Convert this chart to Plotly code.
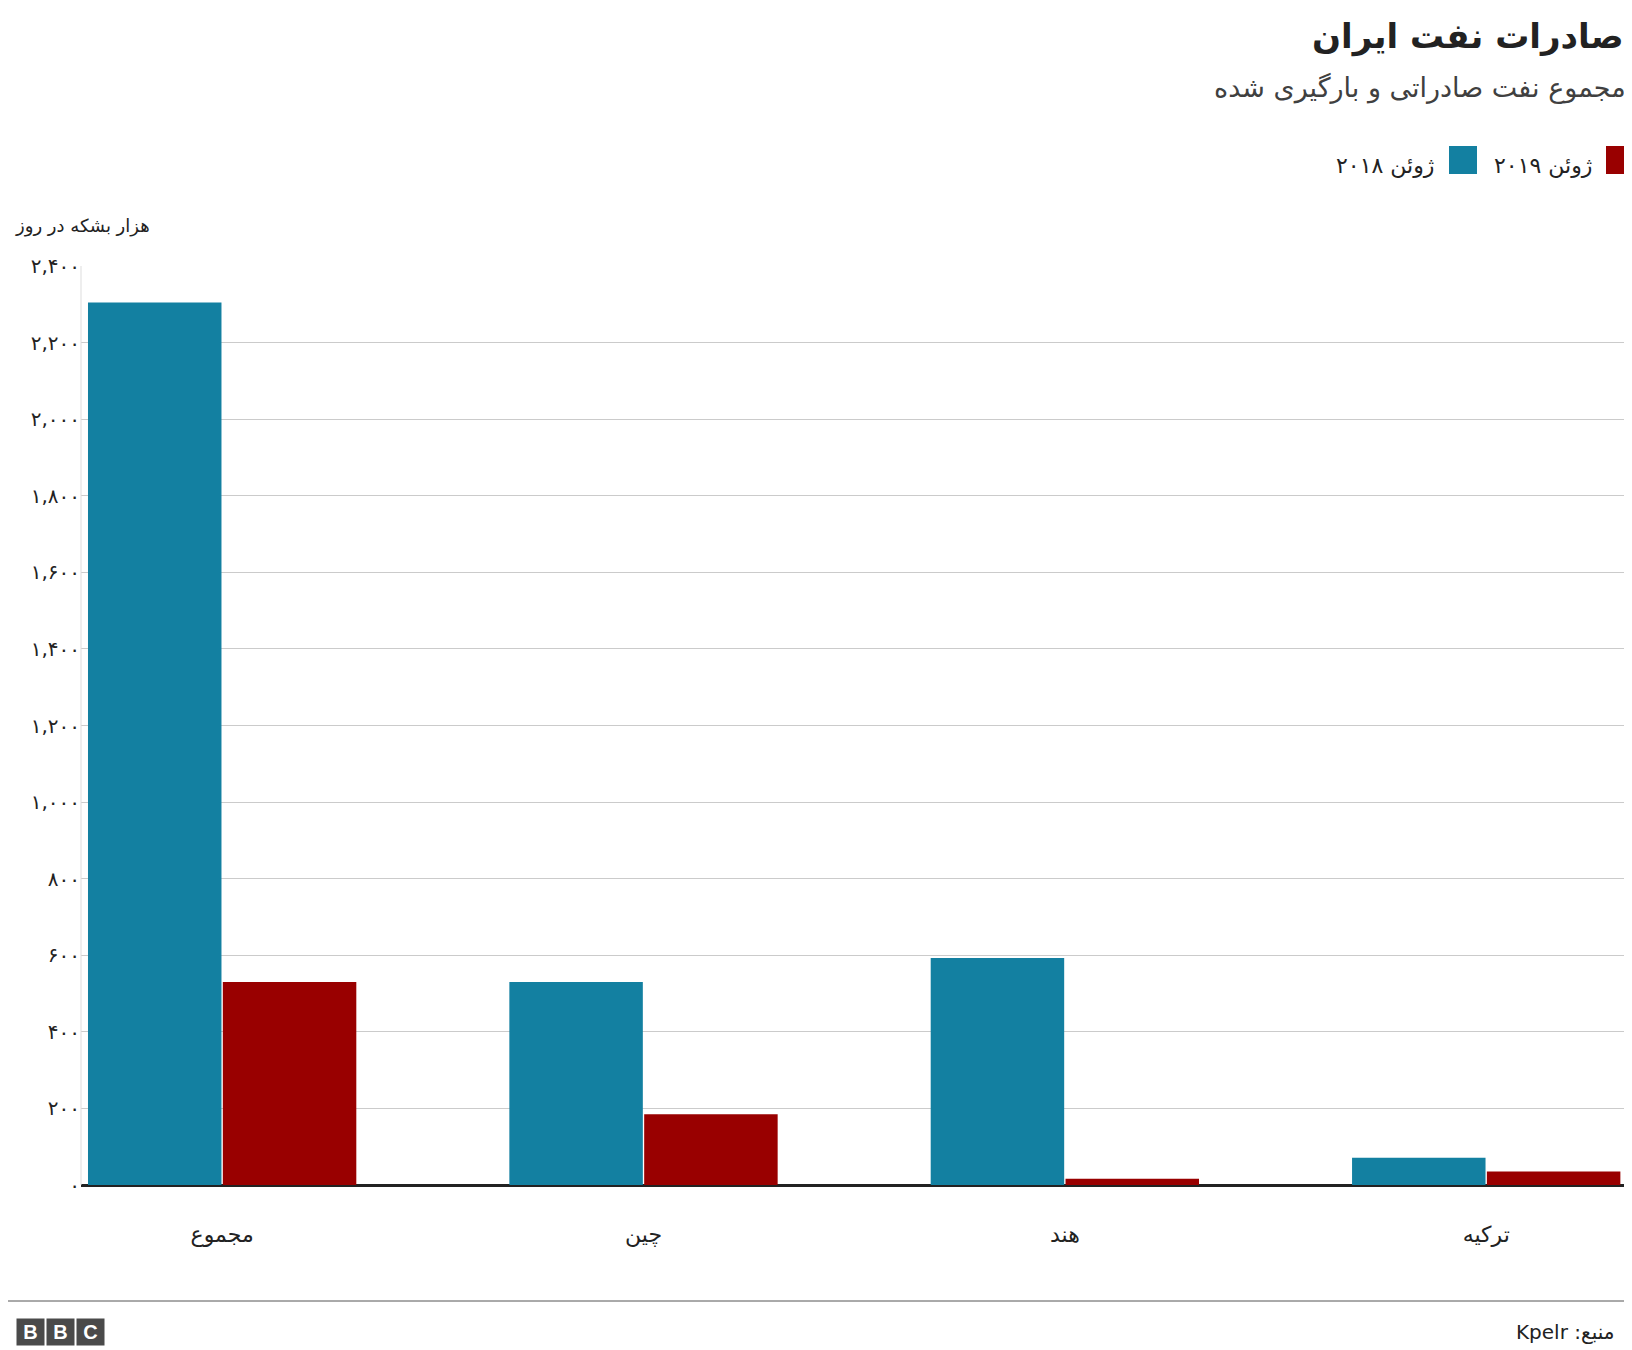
import plotly.graph_objects as go

categories = ["مجموع", "چین", "هند", "ترکیه"]
june_2018 = [2305, 530, 593, 71]
june_2019 = [530, 185, 16, 35]
tick_vals = [0, 200, 400, 600, 800, 1000, 1200, 1400, 1600, 1800, 2000, 2200, 2400]
tick_text = ["۰", "۲۰۰", "۴۰۰", "۶۰۰", "۸۰۰", "۱,۰۰۰", "۱,۲۰۰", "۱,۴۰۰", "۱,۶۰۰", "۱,۸۰۰", "۲,۰۰۰", "۲,۲۰۰", "۲,۴۰۰"]

BLUE = "#1380A1"
RED = "#990000"
F = "DejaVu Sans"
T, B, L = 258, 173, 73

fig = go.Figure()
fig.add_bar(x=categories, y=june_2018, name="ژوئن ۲۰۱۸", marker_color=BLUE, marker_line_width=0)
fig.add_bar(x=categories, y=june_2019, name="ژوئن ۲۰۱۹", marker_color=RED, marker_line_width=0)

fig.update_layout(
    width=1632, height=1350, paper_bgcolor="white", plot_bgcolor="white",
    margin=dict(l=L, r=0, t=T, b=B),
    barmode="group", bargap=0.36, bargroupgap=0.01,
    showlegend=False, font=dict(family=F, color="#222222"),
)
fig.update_xaxes(range=[-0.335, 3.365], showgrid=False, ticks="outside", ticklen=30, tickcolor="rgba(0,0,0,0)",
                 tickfont=dict(size=22, color="#222"), showline=False)
fig.update_yaxes(range=[0, 2400], tickvals=tick_vals, ticktext=tick_text, showgrid=True,
                 gridcolor="#cbcbcb", gridwidth=1, zeroline=True, zerolinecolor="#222", zerolinewidth=3,
                 tickfont=dict(size=20, color="#222"), ticks="", showline=False)
fig.add_shape(type="line", xref="paper", yref="paper", x0=0, x1=0, y0=0, y1=1, line=dict(color="#dddddd", width=1))

def py(px):
    return (1350 - px - B) / (1350 - T - B)
def pxx(px):
    return (px - L) / (1632 - L)

def txt(text, x, y, size, color="#222", anchor="right", family=F, **kw):
    fig.add_annotation(text=text, xref="paper", yref="paper", x=pxx(x), xanchor=anchor,
                       y=py(y), yanchor="middle", showarrow=False,
                       font=dict(size=size, color=color, family=family), **kw)

txt("<b>صادرات نفت ایران</b>", 1618, 29, 34)
txt("مجموع نفت صادراتی و بارگیری شده", 1620, 80, 27, "#404040")
# legend
fig.add_shape(type="rect", xref="paper", yref="paper", x0=pxx(1598), x1=pxx(1626), y0=py(166), y1=py(138), fillcolor=RED, line_width=0)
txt("ژوئن ۲۰۱۹", 1586, 157, 22)
fig.add_shape(type="rect", xref="paper", yref="paper", x0=pxx(1441), x1=pxx(1469), y0=py(166), y1=py(138), fillcolor=BLUE, line_width=0)
txt("ژوئن ۲۰۱۸", 1428, 157, 22)
txt("هزار بشکه در روز", 5, 218, 18, anchor="left")
# footer
fig.add_shape(type="line", xref="paper", yref="paper", x0=pxx(0), x1=1, y0=py(1293), y1=py(1293), line=dict(color="#555", width=1))
txt("Kpelr :منبع", 1608, 1324, 20)
for i, ch in enumerate("BBC"):
    txt("<b>%s</b>" % ch, 8 + i * 30, 1324, 20, color="white", anchor="left", family="Liberation Sans",
        bgcolor="#4a4a4a", borderpad=2, width=23)

fig.write_html("out.html")
